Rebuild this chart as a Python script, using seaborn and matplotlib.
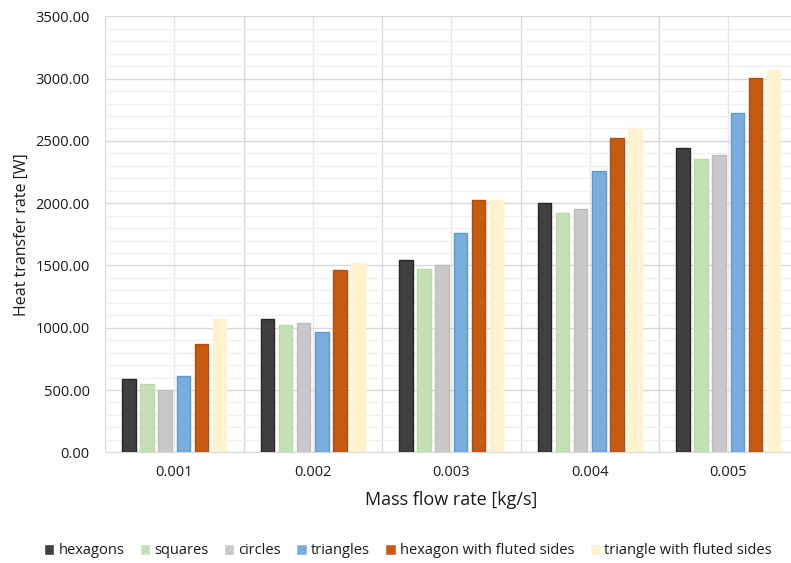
import matplotlib
matplotlib.use("Agg")
import matplotlib.pyplot as plt
import seaborn as sns
import pandas as pd
import numpy as np
from matplotlib.ticker import MultipleLocator, FuncFormatter

categories = ["0.001", "0.002", "0.003", "0.004", "0.005"]
series = ["hexagons", "squares", "circles", "triangles",
          "hexagon with fluted sides", "triangle with fluted sides"]
hexagons = [586, 1070, 1543, 1998, 2440]
squares = [548, 1019, 1471, 1918, 2351]
circles = [500, 1035, 1503, 1952, 2386]
triangles = [612, 965, 1757, 2260, 2725]
hex_fluted = [870, 1466, 2025, 2520, 3006]
tri_fluted = [1070, 1517, 2028, 2592, 3068]

values = [hexagons, squares, circles, triangles, hex_fluted, tri_fluted]
rows = []
for name, vals in zip(series, values):
    for c, v in zip(categories, vals):
        rows.append({"flow": c, "shape": name, "q": v})
df = pd.DataFrame(rows)

fills = ["#404040", "#c5e0b4", "#c8c8c8", "#7aaddc", "#c55a11", "#fff2cc"]
edges = ["#262626", "#bcd9a8", "#bdbdbd", "#5b9bd5", "#b84a0a", "#fff2cc"]

sns.set_style("white")
plt.rcParams["font.family"] = ["Open Sans", "DejaVu Sans"]

fig = plt.figure(figsize=(7.91, 5.63), dpi=100)
ax = fig.add_axes([105 / 791, (563 - 452.3) / 563, (797.5 - 105) / 791, 436 / 563])

sns.barplot(data=df, x="flow", y="q", hue="shape", order=categories,
            hue_order=series, palette=fills, width=0.78, gap=0.25,
            saturation=1, ax=ax, legend=True)

for i, cont in enumerate(ax.containers):
    for p in cont:
        p.set_edgecolor(edges[i])
        p.set_linewidth(1.0)
        p.set_zorder(3)

ax.set_ylim(0, 3500)
ax.set_xlim(-0.5, 4.5)
ax.yaxis.set_major_locator(MultipleLocator(500))
ax.yaxis.set_minor_locator(MultipleLocator(100))
ax.yaxis.set_major_formatter(FuncFormatter(lambda v, p: f"{v:.2f}"))
ax.grid(axis="y", which="major", color="#d9d9d9", lw=1.0, zorder=0)
ax.grid(axis="y", which="minor", color="#f0f0f0", lw=1.0, zorder=0)
for xb in np.arange(-0.5, 5.0, 1.0):
    ax.axvline(xb, color="#d9d9d9", lw=1.0, zorder=0)
for xc in range(5):
    ax.axvline(xc, color="#e8e8e8", lw=1.0, zorder=0)
ax.set_axisbelow(True)

for s in ["top", "right", "left"]:
    ax.spines[s].set_visible(False)
ax.spines["bottom"].set_color("#d9d9d9")
ax.tick_params(axis="both", which="both", length=0, labelsize=10.5, colors="#1a1a1a")
ax.tick_params(axis="y", pad=11)
ax.tick_params(axis="x", pad=9)

ax.set_xlabel("Mass flow rate [kg/s]", fontsize=13, color="#1a1a1a", labelpad=8)
ax.set_ylabel("Heat transfer rate [W]", fontsize=11.5, color="#1a1a1a", labelpad=4)

handles, labels = ax.get_legend_handles_labels()
ax.legend_.remove()
fig.legend(handles, labels, loc="center", bbox_to_anchor=(408 / 791, 1 - 551 / 563),
           ncol=6, frameon=False, fontsize=10.5, handlelength=0.7, handleheight=0.7,
           handletextpad=0.3, columnspacing=1.05, labelcolor="#1a1a1a")

fig.savefig("out.png", dpi=100)
